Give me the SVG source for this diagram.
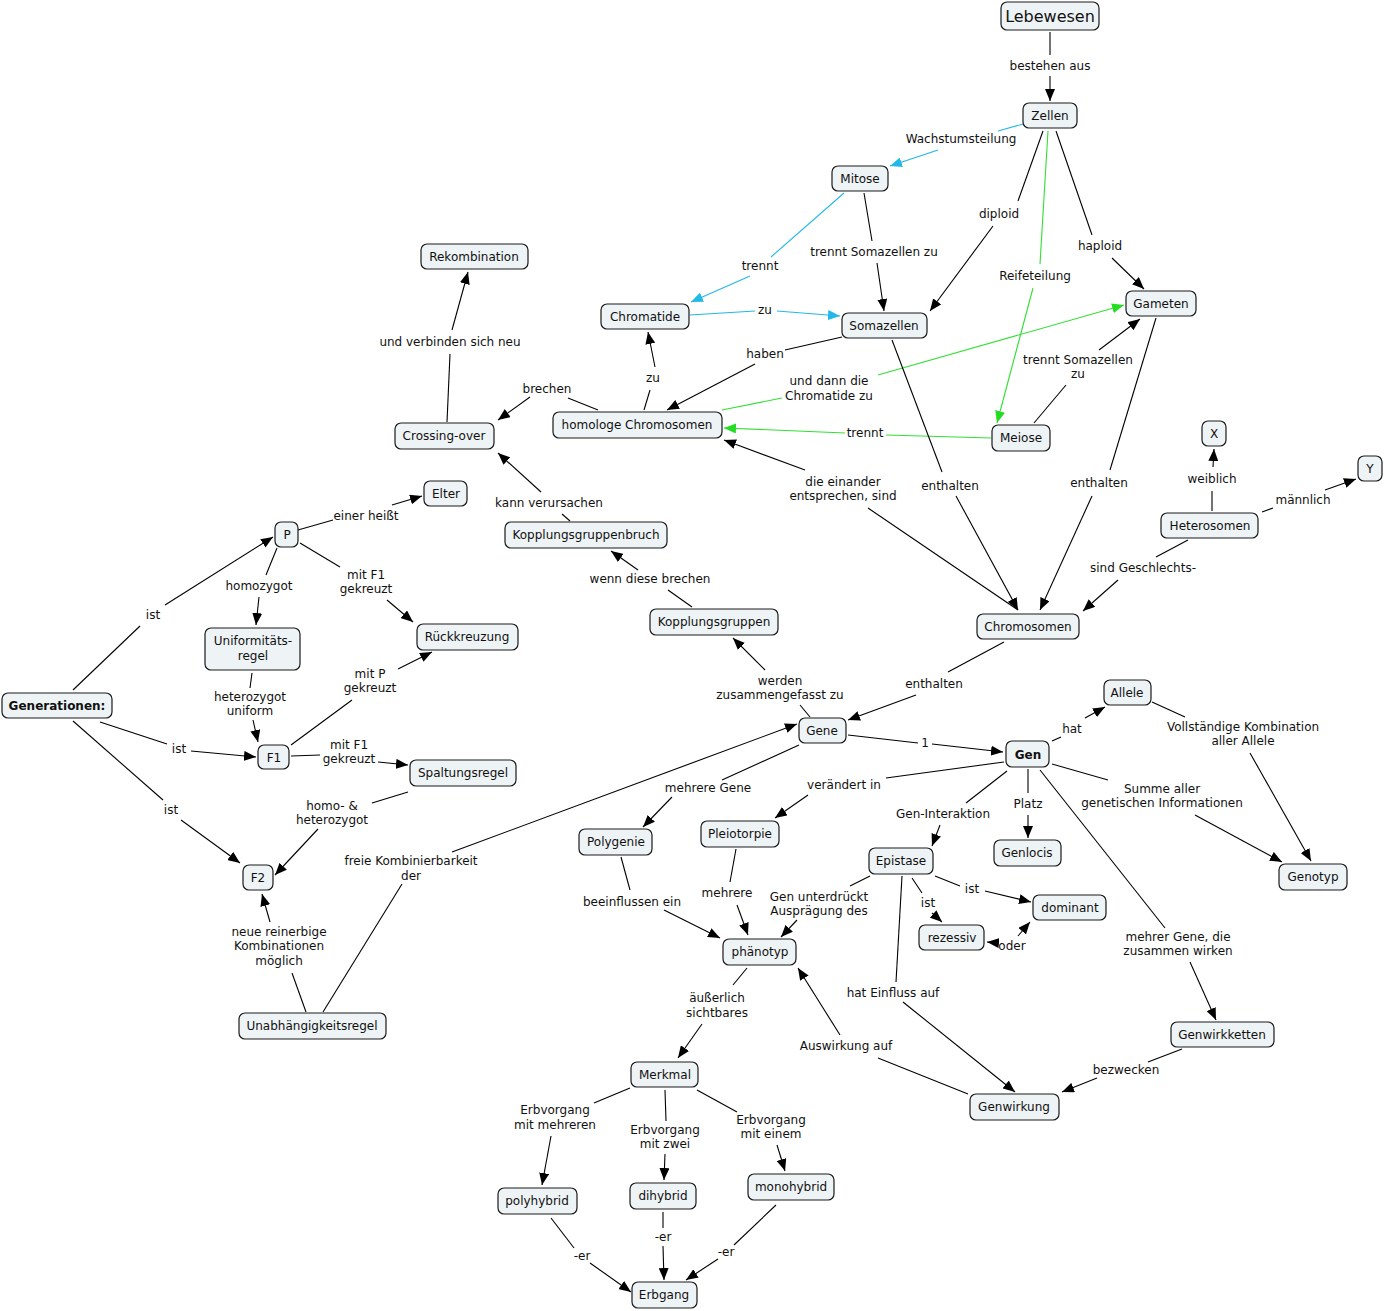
<svg xmlns="http://www.w3.org/2000/svg" width="1384" height="1311" viewBox="0 0 1384 1311">
<style>
text{font-family:"DejaVu Sans",Verdana,sans-serif;font-size:12px;fill:#111;text-anchor:middle}
.n rect{fill:#eef3f6;stroke:#1a1a1a;stroke-width:1.2}
.b{font-weight:bold}
#conn path{fill:none;stroke:#000;stroke-width:1.1}
#conn path.g{stroke:#33e033}
#conn path.c{stroke:#22b8e8}
#conn path.a{marker-end:url(#ak)}
#conn path.g.a{marker-end:url(#ag)}
#conn path.c.a{marker-end:url(#ac)}
</style>
<defs>
<marker id="ak" viewBox="0 0 12 10" refX="12" refY="5" markerWidth="12" markerHeight="10" orient="auto" markerUnits="userSpaceOnUse"><path d="M0,0L12,5L0,10z" fill="#000"/></marker>
<marker id="ag" viewBox="0 0 12 10" refX="12" refY="5" markerWidth="12" markerHeight="10" orient="auto" markerUnits="userSpaceOnUse"><path d="M0,0L12,5L0,10z" fill="#22dd22"/></marker>
<marker id="ac" viewBox="0 0 12 10" refX="12" refY="5" markerWidth="12" markerHeight="10" orient="auto" markerUnits="userSpaceOnUse"><path d="M0,0L12,5L0,10z" fill="#22b8e8"/></marker>
</defs>
<rect width="1384" height="1311" fill="#fff"/>
<g id="conn">
<path d="M1050,32L1050,55"/><path class="a" d="M1050,76L1050,101"/>
<path class="c" d="M1023,124L998,131"/><path class="c a" d="M938,150L890,166"/>
<path d="M1043,131L1018,201"/><path class="a" d="M993,226L930,311"/>
<path class="g" d="M1048,131L1040,264"/><path class="g a" d="M1033,288L997,423"/>
<path d="M1056,131L1092,235"/><path class="a" d="M1112,258L1144,289"/>
<path class="c" d="M844,193L771,257"/><path class="c a" d="M750,276L691,302"/>
<path d="M864,193L872,241"/><path class="a" d="M877,263L884,311"/>
<path class="c" d="M690,315L755,311"/><path class="c a" d="M777,311L840,316"/>
<path d="M842,337L785,350"/><path class="a" d="M755,364L667,410"/>
<path class="g" d="M722,410L782,398"/><path class="g a" d="M878,375L1124,305"/>
<path class="g" d="M991,438L886,435"/><path class="g a" d="M845,433L724,428"/>
<path d="M1034,423L1066,385"/><path class="a" d="M1099,350L1140,319"/>
<path d="M1018,610L868,508"/><path class="a" d="M805,470L724,440"/>
<path d="M892,340L942,472"/><path class="a" d="M956,496L1018,610"/>
<path d="M1156,318L1110,470"/><path class="a" d="M1092,496L1040,610"/>
<path d="M598,410L568,398"/><path class="a" d="M530,397L498,420"/>
<path d="M644,410L650,390"/><path class="a" d="M655,367L648,332"/>
<path d="M447,422L450,354"/><path class="a" d="M452,330L468,272"/>
<path d="M570,521L562,514"/><path class="a" d="M541,492L498,453"/>
<path d="M692,607L668,590"/><path class="a" d="M638,570L611,551"/>
<path d="M810,717L800,705"/><path class="a" d="M765,670L733,638"/>
<path d="M1004,642L948,672"/><path class="a" d="M916,695L848,720"/>
<path d="M848,735L918,743"/><path class="a" d="M932,744L1003,752"/>
<path d="M1212,511L1212,491"/><path class="a" d="M1213,467L1214,449"/>
<path d="M1262,512L1273,508"/><path class="a" d="M1325,490L1356,479"/>
<path d="M1188,540L1156,557"/><path class="a" d="M1118,580L1083,611"/>
<path d="M1052,741L1061,737"/><path class="a" d="M1085,718L1105,707"/>
<path d="M1152,702L1185,717"/><path class="a" d="M1250,753L1311,861"/>
<path d="M1052,764L1108,780"/><path class="a" d="M1195,815L1282,862"/>
<path d="M1004,762L886,778"/><path class="a" d="M808,795L775,818"/>
<path d="M1007,771L966,803"/><path class="a" d="M940,825L932,846"/>
<path d="M1028,769L1028,793"/><path class="a" d="M1028,815L1028,838"/>
<path d="M1040,770L1165,928"/><path class="a" d="M1190,962L1216,1020"/>
<path d="M1182,1049L1148,1062"/><path class="a" d="M1097,1078L1062,1092"/>
<path d="M799,745L722,780"/><path class="a" d="M672,797L643,827"/>
<path d="M935,876L960,886"/><path class="a" d="M985,891L1031,902"/>
<path d="M912,878L922,893"/><path class="a" d="M932,913L942,922"/>
<path class="a" d="M998,943L987,942"/><path class="a" d="M1018,936L1030,922"/>
<path d="M870,876L850,886"/><path class="a" d="M797,920L781,937"/>
<path d="M902,876L896,982"/><path class="a" d="M903,1002L1015,1092"/>
<path d="M968,1094L878,1058"/><path class="a" d="M840,1035L798,968"/>
<path d="M621,857L630,890"/><path class="a" d="M664,910L720,938"/>
<path d="M736,849L730,882"/><path class="a" d="M737,905L748,935"/>
<path d="M747,968L733,985"/><path class="a" d="M702,1024L678,1058"/>
<path d="M630,1088L594,1103"/><path class="a" d="M551,1136L542,1185"/>
<path d="M665,1090L666,1121"/><path class="a" d="M665,1154L664,1180"/>
<path d="M697,1090L737,1112"/><path class="a" d="M777,1145L785,1171"/>
<path d="M551,1218L574,1248"/><path class="a" d="M590,1263L631,1292"/>
<path d="M663,1212L663,1228"/><path class="a" d="M663,1246L664,1280"/>
<path d="M776,1205L734,1245"/><path class="a" d="M718,1259L686,1280"/>
<path d="M323,1012L402,884"/><path class="a" d="M452,852L797,724"/>
<path d="M306,1012L292,973"/><path class="a" d="M270,922L262,894"/>
<path d="M73,690L140,626"/><path class="a" d="M165,605L273,537"/>
<path d="M100,722L167,744"/><path class="a" d="M191,751L256,757"/>
<path d="M73,721L163,800"/><path class="a" d="M181,820L240,863"/>
<path d="M298,530L333,520"/><path class="a" d="M392,505L422,496"/>
<path d="M277,548L266,575"/><path class="a" d="M259,597L256,625"/>
<path d="M300,543L340,567"/><path class="a" d="M387,600L413,622"/>
<path d="M252,673L250,688"/><path class="a" d="M253,720L258,742"/>
<path d="M291,745L352,700"/><path class="a" d="M398,669L432,652"/>
<path d="M291,756L320,755"/><path class="a" d="M378,762L408,765"/>
<path d="M408,792L372,803"/><path class="a" d="M318,829L275,875"/>
</g>
<g id="labels">
<text x="1050" y="70">bestehen aus</text>
<text x="961" y="143">Wachstumsteilung</text>
<text x="999" y="218">diploid</text>
<text x="1035" y="280">Reifeteilung</text>
<text x="1100" y="250">haploid</text>
<text x="760" y="270">trennt</text>
<text x="874" y="256">trennt Somazellen zu</text>
<text x="765" y="314">zu</text>
<text x="765" y="358">haben</text>
<text x="829" y="385">und dann die</text><text x="829" y="400">Chromatide zu</text>
<text x="865" y="437">trennt</text>
<text x="1078" y="364">trennt Somazellen</text><text x="1078" y="378">zu</text>
<text x="843" y="486">die einander</text><text x="843" y="500">entsprechen, sind</text>
<text x="950" y="490">enthalten</text>
<text x="1099" y="487">enthalten</text>
<text x="547" y="393">brechen</text>
<text x="653" y="382">zu</text>
<text x="450" y="346">und verbinden sich neu</text>
<text x="549" y="507">kann verursachen</text>
<text x="650" y="583">wenn diese brechen</text>
<text x="780" y="685">werden</text><text x="780" y="699">zusammengefasst zu</text>
<text x="934" y="688">enthalten</text>
<text x="925" y="747">1</text>
<text x="1212" y="483">weiblich</text>
<text x="1303" y="504">männlich</text>
<text x="1143" y="572">sind Geschlechts-</text>
<text x="1072" y="733">hat</text>
<text x="1243" y="731">Vollständige Kombination</text><text x="1243" y="745">aller Allele</text>
<text x="1162" y="793">Summe aller</text><text x="1162" y="807">genetischen Informationen</text>
<text x="844" y="789">verändert in</text>
<text x="943" y="818">Gen-Interaktion</text>
<text x="1028" y="808">Platz</text>
<text x="1178" y="941">mehrer Gene, die</text><text x="1178" y="955">zusammen wirken</text>
<text x="1126" y="1074">bezwecken</text>
<text x="708" y="792">mehrere Gene</text>
<text x="972" y="893">ist</text>
<text x="928" y="907">ist</text>
<text x="1012" y="950">oder</text>
<text x="819" y="901">Gen unterdrückt</text><text x="819" y="915">Ausprägung des</text>
<text x="893" y="997">hat Einfluss auf</text>
<text x="846" y="1050">Auswirkung auf</text>
<text x="632" y="906">beeinflussen ein</text>
<text x="727" y="897">mehrere</text>
<text x="717" y="1002">äußerlich</text><text x="717" y="1017">sichtbares</text>
<text x="555" y="1114">Erbvorgang</text><text x="555" y="1129">mit mehreren</text>
<text x="665" y="1134">Erbvorgang</text><text x="665" y="1148">mit zwei</text>
<text x="771" y="1124">Erbvorgang</text><text x="771" y="1138">mit einem</text>
<text x="582" y="1260">-er</text>
<text x="663" y="1241">-er</text>
<text x="726" y="1256">-er</text>
<text x="411" y="865">freie Kombinierbarkeit</text><text x="411" y="880">der</text>
<text x="279" y="936">neue reinerbige</text><text x="279" y="950">Kombinationen</text><text x="279" y="965">möglich</text>
<text x="153" y="619">ist</text>
<text x="179" y="753">ist</text>
<text x="171" y="814">ist</text>
<text x="366" y="520">einer heißt</text>
<text x="259" y="590">homozygot</text>
<text x="366" y="579">mit F1</text><text x="366" y="593">gekreuzt</text>
<text x="250" y="701">heterozygot</text><text x="250" y="715">uniform</text>
<text x="370" y="678">mit P</text><text x="370" y="692">gekreuzt</text>
<text x="349" y="749">mit F1</text><text x="349" y="763">gekreuzt</text>
<text x="332" y="810">homo- &amp;</text><text x="332" y="824">heterozygot</text>
</g>
<g id="lebewesen" class="n"><rect x="1001" y="2" width="98" height="28" rx="6"/><text x="1050" y="22" style="font-size:16px">Lebewesen</text></g>
<g id="zellen" class="n"><rect x="1023" y="103" width="54" height="25" rx="6"/><text x="1050" y="120">Zellen</text></g>
<g id="mitose" class="n"><rect x="832" y="166" width="56" height="25" rx="6"/><text x="860" y="183">Mitose</text></g>
<g id="chromatide" class="n"><rect x="601" y="304" width="88" height="25" rx="6"/><text x="645" y="321">Chromatide</text></g>
<g id="somazellen" class="n"><rect x="842" y="313" width="85" height="25" rx="6"/><text x="884" y="330">Somazellen</text></g>
<g id="gameten" class="n"><rect x="1126" y="291" width="70" height="25" rx="6"/><text x="1161" y="308">Gameten</text></g>
<g id="rekombination" class="n"><rect x="421" y="244" width="107" height="25" rx="6"/><text x="474" y="261">Rekombination</text></g>
<g id="crossing" class="n"><rect x="395" y="423" width="99" height="26" rx="6"/><text x="444" y="440">Crossing-over</text></g>
<g id="homologe" class="n"><rect x="553" y="412" width="169" height="26" rx="6"/><text x="637" y="429">homologe Chromosomen</text></g>
<g id="meiose" class="n"><rect x="992" y="425" width="58" height="26" rx="6"/><text x="1021" y="442">Meiose</text></g>
<g id="x" class="n"><rect x="1202" y="421" width="24" height="25" rx="6"/><text x="1214" y="438">X</text></g>
<g id="y" class="n"><rect x="1358" y="456" width="24" height="25" rx="6"/><text x="1370" y="473">Y</text></g>
<g id="heterosomen" class="n"><rect x="1161" y="513" width="97" height="25" rx="6"/><text x="1210" y="530">Heterosomen</text></g>
<g id="elter" class="n"><rect x="424" y="481" width="43" height="25" rx="6"/><text x="446" y="498">Elter</text></g>
<g id="p" class="n"><rect x="275" y="522" width="23" height="25" rx="6"/><text x="287" y="539">P</text></g>
<g id="kgbruch" class="n"><rect x="505" y="522" width="162" height="26" rx="6"/><text x="586" y="539">Kopplungsgruppenbruch</text></g>
<g id="uniform" class="n"><rect x="205" y="628" width="95" height="42" rx="6"/><text x="253" y="645">Uniformitäts-</text><text x="253" y="660">regel</text></g>
<g id="rueck" class="n"><rect x="417" y="624" width="101" height="26" rx="6"/><text x="467" y="641">Rückkreuzung</text></g>
<g id="kg" class="n"><rect x="650" y="609" width="128" height="26" rx="6"/><text x="714" y="626">Kopplungsgruppen</text></g>
<g id="chromosomen" class="n"><rect x="977" y="614" width="102" height="25" rx="6"/><text x="1028" y="631">Chromosomen</text></g>
<g id="generationen" class="n"><rect x="2" y="693" width="110" height="25" rx="6"/><text x="57" y="710" class="b">Generationen:</text></g>
<g id="allele" class="n"><rect x="1104" y="680" width="47" height="25" rx="6"/><text x="1127" y="697">Allele</text></g>
<g id="gene" class="n"><rect x="799" y="718" width="47" height="25" rx="6"/><text x="822" y="735">Gene</text></g>
<g id="f1" class="n"><rect x="258" y="745" width="31" height="24" rx="6"/><text x="274" y="762">F1</text></g>
<g id="gen" class="n"><rect x="1006" y="741" width="43" height="26" rx="6"/><text x="1028" y="759" class="b">Gen</text></g>
<g id="spaltung" class="n"><rect x="410" y="760" width="106" height="26" rx="6"/><text x="463" y="777">Spaltungsregel</text></g>
<g id="polygenie" class="n"><rect x="579" y="829" width="73" height="26" rx="6"/><text x="616" y="846">Polygenie</text></g>
<g id="pleiotorpie" class="n"><rect x="701" y="821" width="78" height="26" rx="6"/><text x="740" y="838">Pleiotorpie</text></g>
<g id="genlocis" class="n"><rect x="994" y="840" width="67" height="26" rx="6"/><text x="1027" y="857">Genlocis</text></g>
<g id="epistase" class="n"><rect x="869" y="848" width="64" height="26" rx="6"/><text x="901" y="865">Epistase</text></g>
<g id="genotyp" class="n"><rect x="1279" y="864" width="68" height="26" rx="6"/><text x="1313" y="881">Genotyp</text></g>
<g id="f2" class="n"><rect x="243" y="865" width="30" height="25" rx="6"/><text x="258" y="882">F2</text></g>
<g id="dominant" class="n"><rect x="1033" y="895" width="73" height="25" rx="6"/><text x="1070" y="912">dominant</text></g>
<g id="rezessiv" class="n"><rect x="919" y="925" width="65" height="25" rx="6"/><text x="952" y="942">rezessiv</text></g>
<g id="phaenotyp" class="n"><rect x="723" y="939" width="73" height="26" rx="6"/><text x="760" y="956">phänotyp</text></g>
<g id="unabh" class="n"><rect x="239" y="1013" width="147" height="26" rx="6"/><text x="312" y="1030">Unabhängigkeitsregel</text></g>
<g id="genwirkketten" class="n"><rect x="1171" y="1022" width="103" height="25" rx="6"/><text x="1222" y="1039">Genwirkketten</text></g>
<g id="merkmal" class="n"><rect x="631" y="1062" width="67" height="25" rx="6"/><text x="665" y="1079">Merkmal</text></g>
<g id="genwirkung" class="n"><rect x="970" y="1094" width="89" height="26" rx="6"/><text x="1014" y="1111">Genwirkung</text></g>
<g id="polyhybrid" class="n"><rect x="498" y="1188" width="79" height="26" rx="6"/><text x="537" y="1205">polyhybrid</text></g>
<g id="dihybrid" class="n"><rect x="630" y="1183" width="66" height="26" rx="6"/><text x="663" y="1200">dihybrid</text></g>
<g id="monohybrid" class="n"><rect x="748" y="1174" width="86" height="26" rx="6"/><text x="791" y="1191">monohybrid</text></g>
<g id="erbgang" class="n"><rect x="632" y="1282" width="65" height="26" rx="6"/><text x="664" y="1299">Erbgang</text></g>
</svg>
